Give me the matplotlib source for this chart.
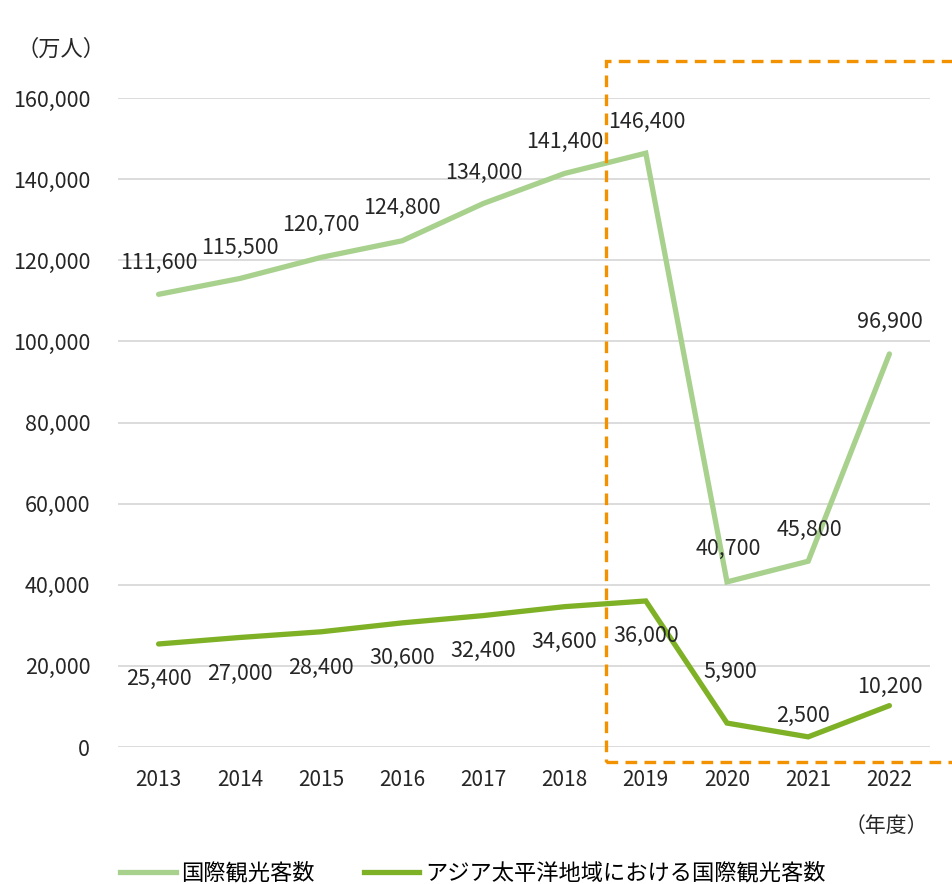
import numpy as np
import matplotlib.pyplot as plt
from matplotlib.lines import Line2D
from matplotlib.patches import Rectangle

plt.rcParams['font.family'] = ['Noto Sans CJK JP', 'DejaVu Sans']

years = ['2013', '2014', '2015', '2016', '2017', '2018', '2019', '2020', '2021', '2022']
world = [111600, 115500, 120700, 124800, 134000, 141400, 146400, 40700, 45800, 96900]
asia = [25400, 27000, 28400, 30600, 32400, 34600, 36000, 5900, 2500, 10200]
name_world = '国際観光客数'
name_asia = 'アジア太平洋地域における国際観光客数'

# label offsets in pixels (dx, dy)
off_world = [(0, 31), (0, 31), (0, 32), (0, 33), (0, 31), (0, 31), (1, 31), (1, 33), (1, 31), (0, 32)]
off_asia = [(0, -35), (0, -36), (0, -36), (0, -35), (0, -35), (0, -35), (0, -35), (3, 51), (-5, 21), (0, 19)]

c_world = '#A9D18E'
c_asia = '#7FB126'
c_box = '#F39200'
c_text = '#262626'

fig = plt.figure(figsize=(9.53, 8.84), dpi=100)
ax = fig.add_axes([118 / 953, 1 - 747 / 884, 812 / 953, 649 / 884])
x = np.arange(len(years))
ax.plot(x, world, color=c_world, lw=3.8, solid_capstyle='round', solid_joinstyle='miter')
ax.plot(x, asia, color=c_asia, lw=3.8, solid_capstyle='round', solid_joinstyle='miter')

for i in range(len(years)):
    ax.annotate(f'{world[i]:,}', (x[i], world[i]), xytext=off_world[i], textcoords='offset pixels',
                ha='center', va='center', fontsize=15.5, color=c_text)
    ax.annotate(f'{asia[i]:,}', (x[i], asia[i]), xytext=off_asia[i], textcoords='offset pixels',
                ha='center', va='center', fontsize=15.5, color=c_text)

ax.set_xlim(-0.5, 9.5)
ax.set_ylim(0, 160000)
ax.set_yticks(np.arange(0, 160001, 20000))
ax.set_yticklabels([f'{v:,}' for v in range(0, 160001, 20000)], fontsize=15.5, color=c_text)
ax.set_xticks(x)
ax.set_xticklabels(years, fontsize=15, color=c_text)
ax.tick_params(length=0)
ax.tick_params(axis='y', pad=20)
ax.tick_params(axis='x', pad=16)
ax.grid(axis='y', color='#D9D9D9', lw=1.3)
ax.set_axisbelow(True)
for s in ax.spines.values():
    s.set_visible(False)

# dashed highlight box
fig.patches.append(Rectangle((606 / 953, 1 - 762 / 884), 400 / 953, 701 / 884, transform=fig.transFigure,
                             fill=False, ec=c_box, lw=2.4, ls=(0, (3.5, 2.2)), zorder=5))

fig.text(61 / 953, 1 - 49 / 884, '（万人）', ha='center', va='center', fontsize=16, color=c_text)
fig.text(886 / 953, 1 - 826 / 884, '（年度）', ha='center', va='center', fontsize=15, color=c_text)

handles = [Line2D([], [], color=c_world, lw=3.8), Line2D([], [], color=c_asia, lw=3.8)]
fig.legend(handles, [name_world, name_asia], loc='center', bbox_to_anchor=(473 / 953, 1 - 873 / 884),
           ncol=2, frameon=False, fontsize=16, handlelength=2.5, handletextpad=0.25, columnspacing=2.2)

fig.savefig('out.png', dpi=100)
